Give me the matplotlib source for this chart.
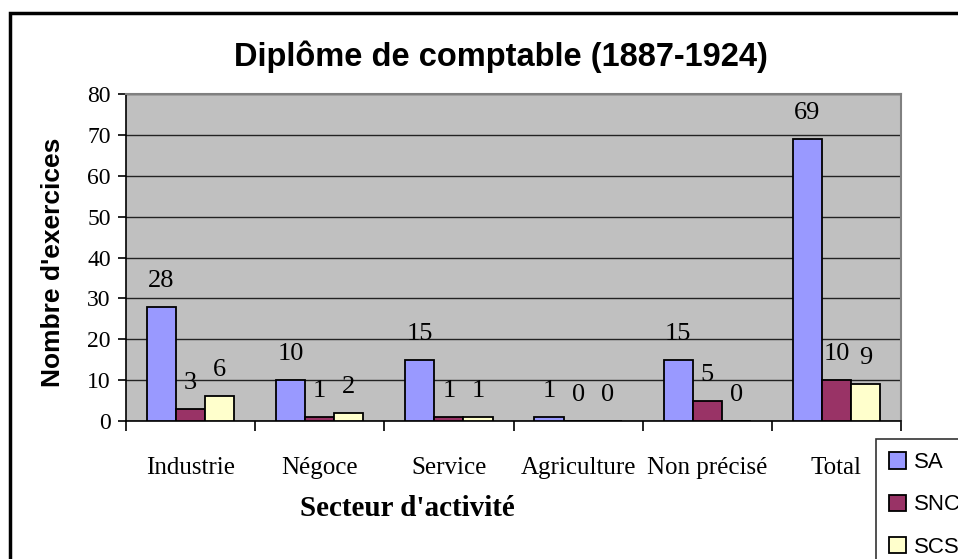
import numpy as np
from matplotlib import pyplot as plt
from matplotlib.patches import Rectangle

# données du graphique
categories = ['Industrie', 'Négoce', 'Service', 'Agriculture', 'Non précisé', 'Total']
series = ['SA', 'SNC', 'SCS']
sa = [28, 10, 15, 1, 15, 69]
snc = [3, 1, 1, 0, 5, 10]
scs = [6, 2, 1, 0, 0, 9]
colors = ['#9999FF', '#993366', '#FFFFCC']

fig = plt.figure(figsize=(9.58, 5.59), dpi=100)
fig.patch.set_facecolor('white')

# cadre extérieur (coupé à droite et en bas)
fig.patches.append(Rectangle((10/958, -0.05), 1.1, 1 - 13/559 + 0.05,
                             transform=fig.transFigure, fill=False,
                             edgecolor='black', linewidth=2.5))

ax = fig.add_axes([126/958, 1 - 421/559, 775/958, 327/559])
ax.set_facecolor('#C0C0C0')

x = np.arange(len(categories))
w = 0.225
for i, (vals, col) in enumerate(zip([sa, snc, scs], colors)):
    pos = x + (i - 1) * w
    ax.bar(pos, vals, width=w, color=col, edgecolor='black', linewidth=1.3,
           label=series[i], zorder=3)
    for p, v in zip(pos, vals):
        ax.annotate(str(v), (p, v), xytext=(0, 26), textcoords='offset pixels',
                    ha='center', va='center', fontsize=19,
                    family='Liberation Serif', zorder=4)

ax.set_xlim(-0.5, len(categories) - 0.5)
ax.set_ylim(0, 80)
ax.set_yticks(range(0, 81, 10))
ax.yaxis.grid(True, color='#222222', linewidth=1)
ax.set_axisbelow(True)

ax.set_xticks(x)
ax.set_xticklabels(categories, family='Liberation Serif', fontsize=18)
ax.set_xticks(np.arange(len(categories) + 1) - 0.5, minor=True)
ax.tick_params(axis='x', which='major', length=0, pad=26)
ax.tick_params(axis='x', which='minor', length=7, width=1.2, direction='out')
ax.tick_params(axis='y', length=6, width=1.2, direction='out', pad=5)
for lab in ax.get_yticklabels():
    lab.set_family('Liberation Serif')
    lab.set_fontsize(17)

for s in ['top', 'right']:
    ax.spines[s].set_color('#808080')
    ax.spines[s].set_linewidth(1.5)
for s in ['left', 'bottom']:
    ax.spines[s].set_color('black')
    ax.spines[s].set_linewidth(1.2)

fig.text(501/958, 1 - 57/559, 'Diplôme de comptable (1887-1924)',
         ha='center', va='center', fontsize=23.5, fontweight='bold',
         family='Liberation Sans')
fig.text(53/958, 1 - 262/559, "Nombre d'exercices", rotation=90,
         ha='center', va='center', fontsize=19, fontweight='bold',
         family='Liberation Sans')
fig.text(407/958, 1 - 508/559, "Secteur d'activité",
         ha='center', va='center', fontsize=21, fontweight='bold',
         family='Liberation Serif')

leg = fig.legend(loc='upper left', bbox_to_anchor=(876/958, 1 - 439/559),
                 prop={'family': 'Liberation Sans', 'size': 16},
                 frameon=True, fancybox=False, handlelength=0.75,
                 handleheight=0.75, handletextpad=0.35, labelspacing=0.95,
                 borderpad=0.6, borderaxespad=0)
leg.get_frame().set_edgecolor('black')
leg.get_frame().set_linewidth(1.2)

fig.savefig('out.png', dpi=100)
